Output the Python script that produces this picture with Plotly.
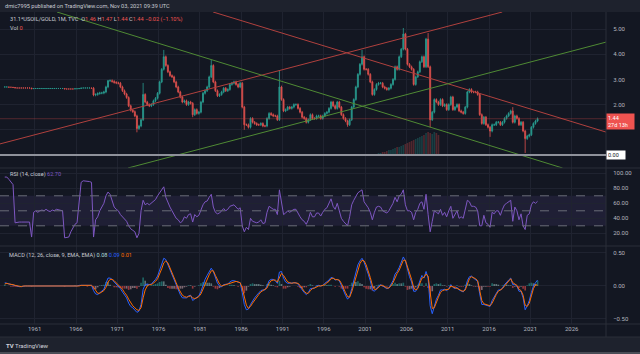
import plotly.graph_objects as go
import numpy as np

W, H = 640, 354

# ---------------- data ----------------
tick_years = [1961, 1966, 1971, 1976, 1981, 1986, 1991, 1996, 2001, 2006, 2011, 2016, 2021, 2026]
tick_labels = [str(y) for y in tick_years]
price_ticks = [0, 1, 2, 3, 4, 5]
price_tick_labels = ["", "", "2.00", "3.00", "4.00", "5.00"]   # 0.00 / 1.00 sit under the label boxes
rsi_ticks = [20, 40, 60, 80, 100]
rsi_tick_labels = ["20.00", "40.00", "60.00", "80.00", "100.00"]
macd_ticks = [-0.5, 0, 0.5]
macd_tick_labels = ["\u22120.50", "0.00", "0.50"]

# quarterly closes, 1957 Q2 .. 2021 Q4
close = [
    2.70, 2.70, 2.69,
    2.69, 2.68, 2.66, 2.66,
    2.66, 2.66, 2.66, 2.66,
    2.66, 2.66, 2.63, 2.64,
    2.64, 2.64, 2.64, 2.64,
    2.64, 2.64, 2.64, 2.64,
    2.64, 2.64, 2.64, 2.64,
    2.64, 2.64, 2.62, 2.62,
    2.62, 2.62, 2.62, 2.63,
    2.63, 2.64, 2.66, 2.66,
    2.66, 2.66, 2.66, 2.65,
    2.38, 2.40, 2.44, 2.46,   # 1968
    2.46, 2.50, 2.70, 2.95,
    2.95, 2.92, 2.88, 2.86,   # 1970
    2.85, 2.70, 2.55, 2.42,
    2.28, 1.95, 1.78, 1.72,
    1.55, 1.05, 1.15, 1.40,
    2.40, 2.10, 2.00, 1.95,
    2.00, 2.15, 2.25, 2.45,   # 1975
    2.90, 3.40, 3.90, 3.55,
    3.30, 3.15, 3.10, 2.90,
    2.70, 2.50, 2.30, 2.10,
    2.15, 2.00, 2.10, 2.05,
    1.60, 1.80, 1.65, 1.70,   # 1980
    2.10, 2.45, 2.55, 2.70,
    3.10, 3.55, 2.90, 2.55,
    2.35, 2.40, 2.50, 2.65,
    2.55, 2.60, 2.80, 2.85,
    2.90, 2.80, 2.70, 2.85,   # 1985
    1.90, 1.20, 1.20, 1.10,
    1.45, 1.30, 1.25, 1.20,
    1.20, 1.25, 1.15, 1.15,
    1.45, 1.65, 1.60, 1.55,
    1.55, 1.40, 2.70, 2.20,   # 1990
    1.75, 1.80, 1.90, 1.85,
    1.90, 2.00, 2.00, 1.85,
    1.70, 1.50, 1.45, 1.30,
    1.40, 1.60, 1.45, 1.45,
    1.55, 1.55, 1.45, 1.55,   # 1995
    1.65, 1.70, 1.85, 2.10,
    1.95, 1.85, 2.10, 1.90,
    1.60, 1.45, 1.35, 1.20,
    1.40, 1.90, 2.20, 2.70,
    3.20, 3.60, 3.90, 3.40,   # 2000
    3.40, 3.20, 2.90, 2.40,
    2.60, 2.80, 2.85, 2.85,
    2.70, 2.65, 2.60, 2.65,
    2.80, 3.00, 3.50, 3.40,
    3.90, 4.20, 4.80, 4.20,   # 2005
    3.60, 3.50, 3.40, 2.80,
    3.10, 3.30, 3.70, 3.90,
    3.50, 4.60, 3.50, 1.40,
    1.70, 2.20, 2.10, 2.00,
    2.20, 1.95, 2.00, 1.80,   # 2010
    2.00, 2.30, 1.80, 1.90,
    2.00, 1.75, 1.70, 1.65,
    1.90, 2.50, 2.60, 2.50,
    2.50, 2.50, 2.40, 1.60,
    1.25, 1.50, 1.20, 1.10,   # 2015
    0.95, 1.20, 1.20, 1.30,
    1.30, 1.20, 1.30, 1.45,
    1.55, 1.65, 1.75, 1.30,
    1.55, 1.45, 1.20, 1.30,
    0.95, 0.65, 0.75, 0.80,   # 2020
    1.10, 1.25, 1.35, 1.44,
]

# extreme wicks
hi_dates = [1969.9, 1974.1, 1976.6, 1982.4, 1990.7, 2000.6, 2005.6, 2008.6, 2018.8]
hi_vals = [2.98, 2.86, 4.17, 3.77, 3.37, 4.17, 5.04, 4.84, 1.90]
lo_dates = [1973.4, 1980.1, 1986.4, 1998.9, 2008.9, 2016.1, 2020.3]
lo_vals = [0.90, 1.50, 1.00, 1.12, 1.10, 0.72, 0.08]

rsi = [
    95, 95, 92,
    88, 85, 34, 35,
    35, 35, 35, 36,
    35, 35, 15, 48,
    50, 48, 50, 51,
    50, 52, 50, 49,
    51, 50, 52, 51,
    50, 50, 14, 14,
    15, 22, 27, 32,
    34, 60, 88, 90,
    90, 89, 89, 88,
    15, 38, 42, 50,
    55, 60, 70, 75,
    72, 62, 55, 52,
    50, 45, 42, 38,
    36, 30, 26, 24,
    22, 14, 20, 50,
    64, 58, 60, 58,
    60, 62, 65, 70,
    74, 78, 82, 68,
    60, 55, 50, 45,
    40, 38, 34, 36,
    42, 40, 45, 46,
    35, 45, 42, 44,
    52, 58, 62, 63,
    68, 72, 55, 48,
    46, 47, 50, 53,
    50, 52, 56, 57,
    58, 55, 52, 54,
    30, 22, 28, 25,
    40, 36, 35, 34,
    35, 38, 33, 34,
    48, 56, 54, 52,
    52, 45, 78, 62,
    45, 47, 50, 48,
    50, 52, 52, 46,
    42, 38, 36, 32,
    38, 48, 42, 42,
    47, 47, 43, 48,
    52, 54, 60, 66,
    56, 52, 60, 50,
    40, 36, 33, 30,
    42, 58, 64, 70,
    74, 76, 78, 62,
    58, 54, 48, 38,
    48, 55, 56, 55,
    50, 48, 47, 50,
    55, 60, 68, 62,
    70, 72, 78, 58,
    50, 50, 48, 38,
    48, 52, 60, 62,
    52, 72, 45, 22,
    36, 50, 48, 46,
    52, 44, 48, 42,
    50, 56, 40, 46,
    50, 40, 42, 40,
    52, 64, 62, 56,
    56, 55, 50, 30,
    30, 44, 34, 32,
    28, 48, 46, 50,
    50, 44, 52, 58,
    60, 62, 64, 36,
    55, 50, 38, 46,
    30, 25, 44, 46,
    58, 62, 60, 62.7,
]

macd = [
    0.05, 0.04, 0.03,
    0.02, 0.01, 0.00, -0.01,
    -0.01, -0.01, 0.00, 0.00,
    0.00, 0.00, -0.01, -0.01,
    0.00, 0.00, 0.00, 0.00,
    0.00, 0.00, 0.00, 0.00,
    0.00, 0.00, 0.00, 0.00,
    0.00, 0.00, -0.01, -0.01,
    -0.01, -0.01, -0.01, 0.00,
    0.00, 0.01, 0.01, 0.02,
    0.02, 0.01, 0.01, 0.01,
    -0.07, -0.12, -0.13, -0.10,
    -0.08, -0.05, 0.04, 0.12,
    0.12, 0.10, 0.06, 0.03,
    0.00, -0.04, -0.09, -0.14,
    -0.18, -0.26, -0.31, -0.33,
    -0.36, -0.40, -0.38, -0.28,
    -0.05, 0.02, 0.03, 0.02,
    0.03, 0.06, 0.10, 0.15,
    0.24, 0.33, 0.42, 0.40,
    0.32, 0.24, 0.16, 0.08,
    0.00, -0.08, -0.13, -0.18,
    -0.18, -0.18, -0.15, -0.14,
    -0.22, -0.20, -0.18, -0.15,
    -0.08, 0.02, 0.10, 0.16,
    0.22, 0.27, 0.22, 0.12,
    0.04, 0.00, -0.01, 0.02,
    0.02, 0.03, 0.06, 0.08,
    0.08, 0.07, 0.05, 0.05,
    -0.10, -0.28, -0.36, -0.35,
    -0.28, -0.22, -0.18, -0.14,
    -0.10, -0.07, -0.06, -0.06,
    0.00, 0.08, 0.10, 0.10,
    0.08, 0.04, 0.21, 0.22,
    0.12, 0.06, 0.04, 0.04,
    0.04, 0.05, 0.05, 0.03,
    -0.02, -0.07, -0.10, -0.13,
    -0.10, -0.04, -0.03, -0.03,
    0.00, 0.01, 0.00, 0.01,
    0.04, 0.06, 0.09, 0.13,
    0.12, 0.09, 0.10, 0.08,
    0.00, -0.08, -0.14, -0.20,
    -0.16, -0.04, 0.08, 0.20,
    0.32, 0.38, 0.42, 0.36,
    0.28, 0.18, 0.08, -0.06,
    -0.08, -0.04, 0.00, 0.02,
    0.00, -0.02, -0.04, -0.03,
    0.02, 0.08, 0.18, 0.22,
    0.28, 0.35, 0.44, 0.38,
    0.24, 0.14, 0.06, -0.08,
    -0.08, -0.02, 0.08, 0.16,
    0.12, 0.22, 0.12, -0.30,
    -0.42, -0.30, -0.20, -0.14,
    -0.06, -0.06, -0.05, -0.07,
    -0.04, 0.02, -0.02, -0.04,
    -0.02, -0.06, -0.08, -0.09,
    -0.04, 0.08, 0.14, 0.15,
    0.12, 0.10, 0.07, -0.12,
    -0.28, -0.28, -0.29, -0.30,
    -0.31, -0.22, -0.16, -0.10,
    -0.06, -0.06, -0.03, 0.02,
    0.06, 0.09, 0.12, 0.02,
    0.02, 0.00, -0.08, -0.08,
    -0.18, -0.36, -0.30, -0.22,
    -0.10, 0.00, 0.05, 0.09,
]

signal = [
    0.03, 0.04, 0.03,
    0.03, 0.02, 0.01, 0.00,
    -0.01, -0.01, 0.00, 0.00,
    0.00, 0.00, 0.00, -0.01,
    0.00, 0.00, 0.00, 0.00,
    0.00, 0.00, 0.00, 0.00,
    0.00, 0.00, 0.00, 0.00,
    0.00, 0.00, 0.00, -0.01,
    -0.01, -0.01, -0.01, -0.01,
    0.00, 0.00, 0.01, 0.01,
    0.02, 0.02, 0.01, 0.01,
    -0.02, -0.07, -0.11, -0.11,
    -0.09, -0.07, -0.02, 0.06,
    0.10, 0.10, 0.08, 0.05,
    0.02, -0.01, -0.05, -0.10,
    -0.14, -0.20, -0.26, -0.30,
    -0.33, -0.36, -0.37, -0.33,
    -0.18, -0.06, 0.00, 0.02,
    0.02, 0.04, 0.07, 0.11,
    0.18, 0.26, 0.35, 0.38,
    0.35, 0.28, 0.20, 0.12,
    0.05, -0.03, -0.09, -0.14,
    -0.16, -0.17, -0.16, -0.15,
    -0.18, -0.19, -0.18, -0.16,
    -0.12, -0.04, 0.04, 0.11,
    0.17, 0.23, 0.23, 0.16,
    0.09, 0.03, 0.00, 0.01,
    0.02, 0.03, 0.04, 0.06,
    0.07, 0.07, 0.06, 0.05,
    -0.03, -0.17, -0.29, -0.34,
    -0.31, -0.26, -0.21, -0.17,
    -0.13, -0.09, -0.07, -0.06,
    -0.03, 0.04, 0.08, 0.09,
    0.09, 0.06, 0.13, 0.19,
    0.16, 0.10, 0.06, 0.05,
    0.04, 0.05, 0.05, 0.04,
    0.01, -0.04, -0.08, -0.11,
    -0.11, -0.07, -0.04, -0.03,
    -0.01, 0.00, 0.00, 0.01,
    0.02, 0.05, 0.07, 0.11,
    0.12, 0.10, 0.10, 0.09,
    0.04, -0.04, -0.10, -0.16,
    -0.17, -0.09, 0.02, 0.14,
    0.25, 0.34, 0.39, 0.38,
    0.32, 0.23, 0.13, 0.01,
    -0.05, -0.05, -0.02, 0.01,
    0.01, -0.01, -0.03, -0.03,
    0.00, 0.05, 0.13, 0.19,
    0.24, 0.31, 0.39, 0.39,
    0.30, 0.19, 0.10, -0.02,
    -0.06, -0.04, 0.04, 0.12,
    0.13, 0.18, 0.15, -0.14,
    -0.34, -0.33, -0.24, -0.17,
    -0.10, -0.07, -0.06, -0.06,
    -0.05, 0.00, -0.01, -0.03,
    -0.03, -0.05, -0.07, -0.08,
    -0.06, 0.03, 0.11, 0.14,
    0.13, 0.11, 0.08, -0.05,
    -0.22, -0.27, -0.28, -0.29,
    -0.30, -0.26, -0.19, -0.13,
    -0.08, -0.06, -0.04, 0.00,
    0.04, 0.08, 0.11, 0.05,
    0.03, 0.01, -0.05, -0.07,
    -0.14, -0.29, -0.31, -0.26,
    -0.15, -0.04, 0.02, 0.01,
]

vol_start = 2002.625
vol = [2, 2, 3, 3, 4, 5, 5, 6, 7, 8, 8, 9, 10, 11, 12, 13,
       14, 15, 16, 17, 18, 19, 20, 22, 23, 22, 21, 23, 22, 20]

# drawn trend lines (year, price)
red_up = ([1956.8, 2017.6], [0.44, 5.675])
red_down = ([1982.6, 2030.16], [5.675, 0.91])
green_down = ([1963.7, 2024.9], [5.675, -0.516])
green_up = ([1972.3, 2030.16], [-0.516, 4.48])
last_price = 1.44

# ---------------- derived ----------------
dates = [y + (q + 0.5) / 4 for y in range(1957, 2022) for q in range(4)][1:]
n = len(dates)
darr = np.array(dates)
opens = [close[0]] + close[:-1]
highs, lows = [], []
for i in range(n):
    w = 0.05 if dates[i] > 1968 else 0.0
    highs.append(max(opens[i], close[i]) + w)
    lows.append(min(opens[i], close[i]) - w)
for d, v in zip(hi_dates, hi_vals):
    highs[int(np.argmin(abs(darr - d)))] = v
for d, v in zip(lo_dates, lo_vals):
    lows[int(np.argmin(abs(darr - d)))] = v

hist = [m - s for m, s in zip(macd, signal)]
hist_colors = []
for i, h in enumerate(hist):
    prev = hist[i - 1] if i > 0 else 0
    if h >= 0:
        hist_colors.append("rgba(38,166,154,0.55)" if h > prev else "rgba(178,223,219,0.45)")
    else:
        hist_colors.append("rgba(255,205,210,0.45)" if h > prev else "rgba(255,82,82,0.55)")

vol_dates = [vol_start + 0.25 * i for i in range(len(vol))]
vol_colors = []
for d in vol_dates:
    i = int(np.argmin(abs(darr - d)))
    vol_colors.append("rgba(38,166,154,0.28)" if close[i] >= opens[i] else "rgba(239,83,80,0.28)")

# ---------------- figure ----------------
def py(p):
    return 1 - p / H

X_END = 606 / W
BG = "#131722"
FRAME = "#1e222d"
GRID = "#1f2330"
SEP = "#2a2e39"
TXT = "#b2b5be"
FONT = "Roboto"

fig = go.Figure()

fig.add_trace(go.Bar(x=vol_dates, y=vol, marker_color=vol_colors, marker_line_width=0,
                     width=0.2, xaxis="x", yaxis="y4", hoverinfo="skip"))

for (xs, ys), col in [(red_up, "#b0413e"), (red_down, "#b0413e"),
                      (green_down, "#4f8a34"), (green_up, "#4f8a34")]:
    fig.add_trace(go.Scatter(x=xs, y=ys, mode="lines", line=dict(color=col, width=1),
                             xaxis="x", yaxis="y", hoverinfo="skip"))

fig.add_trace(go.Candlestick(
    x=dates, open=opens, high=highs, low=lows, close=close,
    increasing=dict(line=dict(color="#2a9d91", width=0.8), fillcolor="rgba(38,166,154,0.85)"),
    decreasing=dict(line=dict(color="#e0514e", width=0.8), fillcolor="rgba(239,83,80,0.85)"),
    whiskerwidth=0, xaxis="x", yaxis="y", hoverinfo="skip"))

fig.add_trace(go.Scatter(x=dates, y=rsi, mode="lines", line=dict(color="#7e57c2", width=1),
                         xaxis="x", yaxis="y2", hoverinfo="skip"))

fig.add_trace(go.Bar(x=dates, y=hist, marker_color=hist_colors, marker_line_width=0,
                     width=0.2, xaxis="x", yaxis="y3", hoverinfo="skip"))
fig.add_trace(go.Scatter(x=dates, y=macd, mode="lines", line=dict(color="#2962ff", width=1),
                         xaxis="x", yaxis="y3", hoverinfo="skip"))
fig.add_trace(go.Scatter(x=dates, y=signal, mode="lines", line=dict(color="#ff6d00", width=1),
                         xaxis="x", yaxis="y3", hoverinfo="skip"))

tickfont = dict(family=FONT, size=6, color=TXT)
yax_common = dict(side="right", anchor="x", showgrid=True, gridcolor=GRID, gridwidth=1,
                  zeroline=False, ticks="outside", ticklen=5, tickcolor="rgba(0,0,0,0)",
                  tickfont=tickfont, showline=False, fixedrange=True)

shapes = [
    dict(type="rect", xref="paper", yref="paper", x0=0, x1=1, y0=py(337), y1=py(12),
         fillcolor=BG, line_width=0, layer="below"),
    dict(type="rect", xref="paper", yref="paper", x0=0, x1=1, y0=0, y1=py(352),
         fillcolor="#4a4d56", line_width=0, layer="below"),
    # RSI band
    dict(type="rect", xref="x domain", yref="y2", x0=0, x1=1, y0=30, y1=70,
         fillcolor="rgba(126,87,194,0.12)", line_width=0, layer="below"),
]
for lvl in [70, 50, 30]:
    shapes.append(dict(type="line", xref="x domain", yref="y2", x0=0, x1=1, y0=lvl, y1=lvl,
                       line=dict(color="#6a6d78", width=1, dash="dash")))
# separators
for p in [168, 246, 324, 337]:
    shapes.append(dict(type="line", xref="paper", yref="paper", x0=0, x1=1, y0=py(p), y1=py(p),
                       line=dict(color=SEP, width=1)))
shapes.append(dict(type="line", xref="paper", yref="paper", x0=X_END, x1=X_END, y0=py(337), y1=py(12),
                   line=dict(color=SEP, width=1)))
# zero line and last price line
shapes.append(dict(type="line", xref="paper", yref="y", x0=0, x1=X_END, y0=0, y1=0,
                   line=dict(color="#8f929b", width=2)))
shapes.append(dict(type="line", xref="paper", yref="y", x0=0, x1=X_END, y0=last_price, y1=last_price,
                   line=dict(color="rgba(200,70,68,0.45)", width=0.8)))

R = "#ef5350"
ann = [
    dict(text="dmic7995 published on TradingView.com, Nov 03, 2021 09:39 UTC",
         x=3 / W, y=py(6), xanchor="left", yanchor="middle",
         font=dict(family=FONT, size=5.6, color="#c8cbd3")),
    dict(text=("31.1*USOIL/GOLD, 1M, TVC  O<span style='color:%s'>1.46</span> "
               "H<span style='color:%s'>1.47</span> L<span style='color:%s'>1.44</span> "
               "C<span style='color:%s'>1.44</span> <span style='color:%s'>\u22120.02 (\u22121.10%%)</span>")
         % (R, R, R, R, R),
         x=8 / W, y=py(19), xanchor="left", yanchor="middle",
         font=dict(family=FONT, size=5.6, color="#c8cbd3")),
    dict(text="Vol <span style='color:%s'>0</span>" % R,
         x=8 / W, y=py(28), xanchor="left", yanchor="middle",
         font=dict(family=FONT, size=5.6, color="#c8cbd3")),
    dict(text="RSI (14, close) <span style='color:#7e57c2'>62.70</span>",
         x=8 / W, y=py(175), xanchor="left", yanchor="middle",
         font=dict(family=FONT, size=5.6, color="#c8cbd3")),
    dict(text=("MACD (12, 26, close, 9, EMA, EMA) <span style='color:#b2dfdb'>0.08</span> "
               "<span style='color:#2962ff'>0.09</span> <span style='color:#ff6d00'>0.01</span>"),
         x=7 / W, y=py(255), xanchor="left", yanchor="middle",
         font=dict(family=FONT, size=5.6, color="#c8cbd3")),
    dict(text="1.44<br>27d 13h", x=X_END, y=py(121.5), xanchor="left", yanchor="middle",
         align="left", bgcolor=R, borderpad=1, width=25,
         font=dict(family=FONT, size=5.5, color="#ffffff")),
    dict(text="0.00", x=X_END, y=py(155), xanchor="left", yanchor="middle",
         align="left", bgcolor="#ffffff", borderpad=1, width=16,
         font=dict(family=FONT, size=5.5, color="#131722")),
    dict(text="<b>TV</b> TradingView", x=4 / W, y=py(345), xanchor="left", yanchor="middle",
         font=dict(family=FONT, size=6, color="#d1d4dc")),
]
for a in ann:
    a.update(xref="paper", yref="paper", showarrow=False)

fig.update_layout(
    width=W, height=H, margin=dict(l=0, r=0, t=0, b=0),
    paper_bgcolor=FRAME, plot_bgcolor="rgba(0,0,0,0)",
    showlegend=False, barmode="overlay", hovermode=False,
    xaxis=dict(domain=[0, X_END], range=[1956.80, 2030.16], anchor="y3",
               tickmode="array", tickvals=tick_years, ticktext=tick_labels,
               showgrid=True, gridcolor=GRID, zeroline=False, showline=False,
               ticks="", tickfont=tickfont, rangeslider=dict(visible=False), fixedrange=True),
    yaxis=dict(domain=[py(168), py(12)], range=[-0.516, 5.675],
               tickmode="array", tickvals=price_ticks, ticktext=price_tick_labels, **yax_common),
    yaxis2=dict(domain=[py(246), py(168)], range=[3.07, 107.07],
                tickmode="array", tickvals=rsi_ticks, ticktext=rsi_tick_labels, **yax_common),
    yaxis3=dict(domain=[py(324), py(246)], range=[-0.576, 0.606],
                tickmode="array", tickvals=macd_ticks, ticktext=macd_tick_labels, **yax_common),
    yaxis4=dict(overlaying="y", range=[-13, 143], visible=False, fixedrange=True),
    shapes=shapes, annotations=ann,
)

fig.write_html("out.html", config=dict(displayModeBar=False, staticPlot=True))
